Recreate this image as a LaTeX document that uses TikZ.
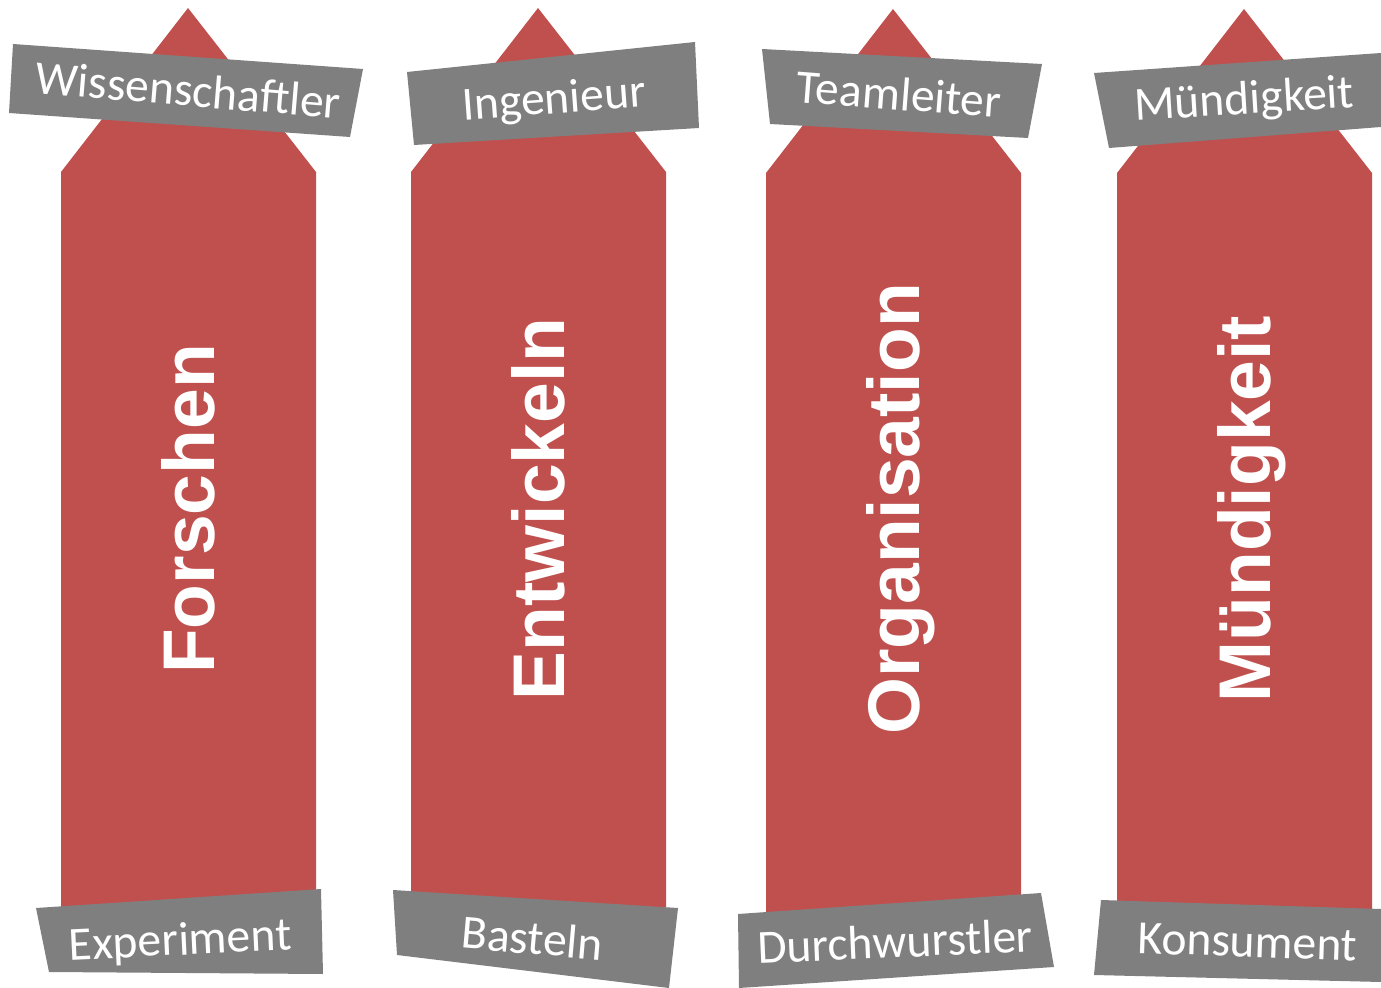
\documentclass[tikz,border=0pt]{standalone}
\usepackage{fontspec}
\setmainfont{Carlito}
\newfontfamily\bigfont{Liberation Sans}
\definecolor{colred}{HTML}{C0504D}
\definecolor{colgray}{HTML}{7F7F7F}
\begin{document}
\begin{tikzpicture}[x=0.5pt,y=-0.5pt,
  redshape/.style={fill=colred,draw=none},
  graybox/.style={fill=colgray,draw=none},
  lbl/.style={text=white,inner sep=0pt,anchor=base,font=\fontsize{23.8}{28}\selectfont},
  bigtxt/.style={text=white,inner sep=0pt,anchor=base,rotate=90,font=\bigfont\bfseries\fontsize{36.6}{44}\selectfont}]
\useasboundingbox (0,0) rectangle (1381,988);
% red columns
\fill[redshape] (61,910) -- (61,172) -- (188,8) -- (316,172) -- (316,910) -- cycle;
\fill[redshape] (411,910) -- (411,172) -- (538,8) -- (666,172) -- (666,910) -- cycle;
\fill[redshape] (766,912) -- (766,173) -- (893,9) -- (1021,173) -- (1021,912) -- cycle;
\fill[redshape] (1117,910) -- (1117,173) -- (1244,9) -- (1372,173) -- (1372,910) -- cycle;
% top gray boxes
\fill[graybox] (13,44) -- (363,69) -- (350,137) -- (9,113) -- cycle;
\fill[graybox] (407,72) -- (695,42) -- (699,128) -- (414,145) -- cycle;
\fill[graybox] (762,49) -- (1042,64) -- (1028,138) -- (770,124) -- cycle;
\fill[graybox] (1094,73) -- (1381,53) -- (1381,127) -- (1109,148) -- cycle;
% bottom gray boxes
\fill[graybox] (36,908) -- (321,889) -- (323,974) -- (49,972) -- cycle;
\fill[graybox] (393,890) -- (678,908) -- (669,988) -- (397,955) -- cycle;
\fill[graybox] (738,914) -- (1041,893) -- (1054,967) -- (739,988) -- cycle;
\fill[graybox] (1101,900) -- (1381,909) -- (1381,982) -- (1094,975) -- cycle;
% big vertical texts
\node[bigtxt] (t1) at (214.5,509) {Forschen};
\node[bigtxt] (t2) at (564.5,509) {Entwickeln};
\node[bigtxt] (t3) at (919.5,509) {Organisation};
\node[bigtxt] (t4) at (1270.5,509) {Mündigkeit};
% top labels
\node[lbl,rotate=-4.7] (l1) at (187,106) {Wissenschaftler};
\node[lbl,rotate=4.2] (l2) at (555,113.5) {Ingenieur};
\node[lbl,rotate=-4.4] (l3) at (898,110) {Teamleiter};
\node[lbl,rotate=3.5] (l4) at (1245,114) {Mündigkeit};
% bottom labels
\node[lbl,rotate=2.7] (b1) at (181,955) {Experiment};
\node[lbl,rotate=-5] (b2) at (531,954) {Basteln};
\node[lbl,rotate=2.5] (b3) at (896,957.5) {Durchwurstler};
\node[lbl,rotate=-2] (b4) at (1247,957) {Konsument};
\end{tikzpicture}
\end{document}
